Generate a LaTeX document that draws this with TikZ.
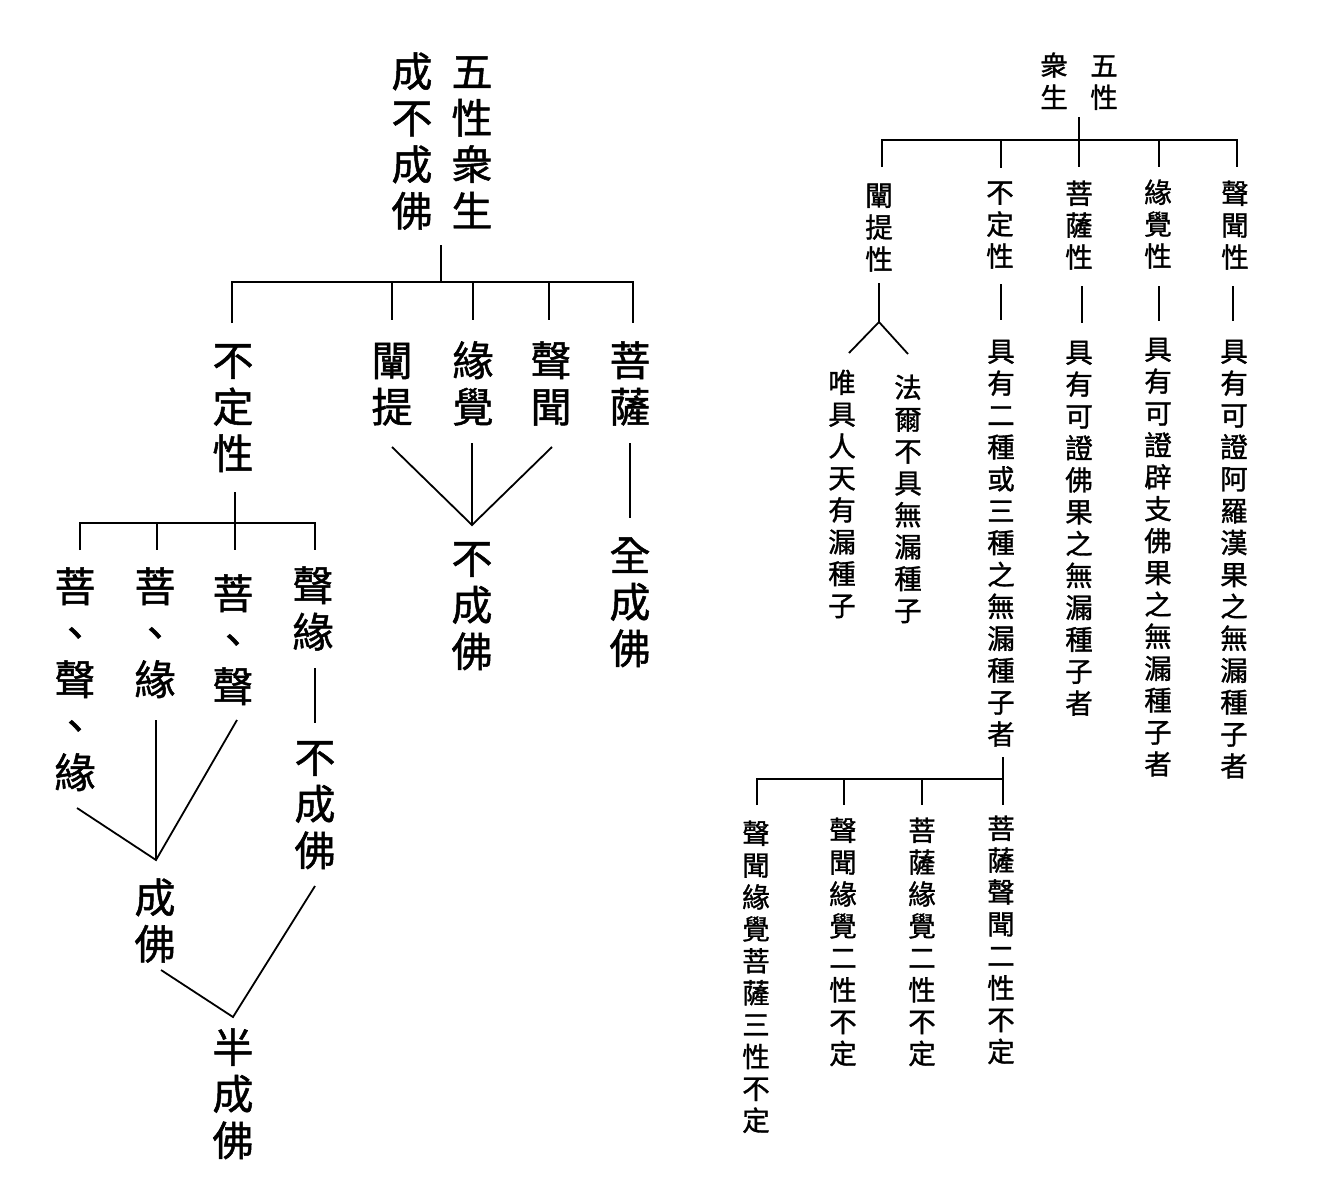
\documentclass[tikz,border=0pt]{standalone}
\usepackage{fontspec}
\newfontfamily\cjk[FakeBold=1.2]{Noto Sans CJK TC}
\newcommand\vstrutx[1]{\rule[\dimexpr0.38em-#1/2\relax]{0pt}{#1}}
\ExplSyntaxOn
\NewDocumentCommand{\vt}{O{46.5pt}m}{\vbox{\offinterlineskip\tl_map_inline:nn{#2}{\hbox_to_wd:nn{1em}{\hss##1\hss\vstrutx{#1}}}}}
\ExplSyntaxOff
\begin{document}
\begin{tikzpicture}[x=1pt,y=-1pt,
  big/.style={font=\cjk\fontsize{41}{46}\selectfont, inner sep=0pt, anchor=north, yshift=23.25pt},
  small/.style={font=\cjk\fontsize{27.5}{32}\selectfont, inner sep=0pt, anchor=north, yshift=15.95pt},
  conn/.style={line width=1.8pt, line cap=butt, line join=miter}]
\useasboundingbox[fill=white] (0,0) rectangle (1341,1199);

% ---------------- left diagram ----------------
\node[big] (lt1) at (412,71) {\vt{成不成佛}};
\node[big] (lt2) at (472,71) {\vt{五性衆生}};
\node[big] (lbd) at (233,360) {\vt{不定性}};
\node[big] (lcc) at (392,360) {\vt{闡提}};
\node[big] (lyj) at (473,360) {\vt{緣覺}};
\node[big] (lsw) at (551,360) {\vt{聲聞}};
\node[big] (lps) at (630,360) {\vt{菩薩}};
\node[big] (lbcf) at (472,558) {\vt{不成佛}};
\node[big] (lqcf) at (630,555) {\vt{全成佛}};
\node[big] (s1) at (75,586) {\vt{菩、聲、緣}};
\node[big] (s2) at (155,586) {\vt{菩、緣}};
\node[big] (s3) at (233,593) {\vt{菩、聲}};
\node[big] (s4) at (313,585) {\vt{聲緣}};
\node[big] (s4b) at (315,757) {\vt{不成佛}};
\node[big] (scf) at (155,897) {\vt{成佛}};
\node[big] (sbcf) at (233,1047) {\vt{半成佛}};

\coordinate (LT) at (441,245);
\coordinate (LJ) at (441,282);
\coordinate (LA) at (232,282);
\coordinate (LB) at (633,282);
\draw[conn] (LT) -- (LJ);
\draw[conn] (232,323) -- (LA) -- (LB) -- (633,323);
\draw[conn] (392,282) -- (392,320);
\draw[conn] (473,282) -- (473,320);
\draw[conn] (549,282) -- (549,320);

\coordinate (LM) at (472,525);
\draw[conn] (392,447) -- (LM) -- (552,447);
\draw[conn] (472,443) -- (LM);
\draw[conn] (630,443) -- (630,518);

\coordinate (SJ) at (235,523);
\draw[conn] (235,492) -- (235,550);
\draw[conn] (80,550) -- (80,523) -- (315,523) -- (315,550);
\draw[conn] (157,523) -- (157,550);
\draw[conn] (315,668) -- (315,723);

\coordinate (SM) at (156,860);
\draw[conn] (77,808) -- (SM) -- (237,720);
\draw[conn] (156,720) -- (SM);
\coordinate (SB) at (233,1017);
\draw[conn] (161,970) -- (SB) -- (315,886);

% ---------------- right diagram ----------------
\node[small] (rt1) at (1054,65) {\vt[32pt]{衆生}};
\node[small] (rt2) at (1104,65) {\vt[32pt]{五性}};
\node[small] (r1) at (879,195) {\vt[31.9pt]{闡提性}};
\node[small] (r2) at (1000,192) {\vt[31.9pt]{不定性}};
\node[small] (r3) at (1079,193) {\vt[31.9pt]{菩薩性}};
\node[small] (r4) at (1158,192) {\vt[31.9pt]{緣覺性}};
\node[small] (r5) at (1235,193) {\vt[31.9pt]{聲聞性}};

\node[small] (a1) at (842,382) {\vt[31.9pt]{唯具人天有漏種子}};
\node[small] (a2) at (908,387) {\vt[31.9pt]{法爾不具無漏種子}};
\node[small] (b) at (1001,351) {\vt[31.9pt]{具有二種或三種之無漏種子者}};
\node[small] (c) at (1079,352) {\vt[31.9pt]{具有可證佛果之無漏種子者}};
\node[small] (d) at (1158,349) {\vt[31.9pt]{具有可證辟支佛果之無漏種子者}};
\node[small] (e) at (1234,351) {\vt[31.9pt]{具有可證阿羅漢果之無漏種子者}};

\node[small] (f1) at (756,833) {\vt[31.9pt]{聲聞緣覺菩薩三性不定}};
\node[small] (f2) at (843,830) {\vt[31.9pt]{聲聞緣覺二性不定}};
\node[small] (f3) at (922,830) {\vt[31.9pt]{菩薩緣覺二性不定}};
\node[small] (f4) at (1001,828) {\vt[31.9pt]{菩薩聲聞二性不定}};

\coordinate (RT) at (1079,117);
\draw[conn] (RT) -- (1079,167);
\draw[conn] (882,167) -- (882,140) -- (1237,140) -- (1237,167);
\draw[conn] (1001,140) -- (1001,168);
\draw[conn] (1159,140) -- (1159,167);

\coordinate (RY) at (879,322);
\draw[conn] (879,283) -- (RY);
\draw[conn] (849,353) -- (RY) -- (908,354);
\draw[conn] (1001,284) -- (1001,320);
\draw[conn] (1082,286) -- (1082,323);
\draw[conn] (1159,286) -- (1159,321);
\draw[conn] (1233,286) -- (1233,321);

\draw[conn] (1003,757) -- (1003,805);
\draw[conn] (757,805) -- (757,779) -- (1003,779);
\draw[conn] (844,779) -- (844,805);
\draw[conn] (922,779) -- (922,805);
\end{tikzpicture}
\end{document}
